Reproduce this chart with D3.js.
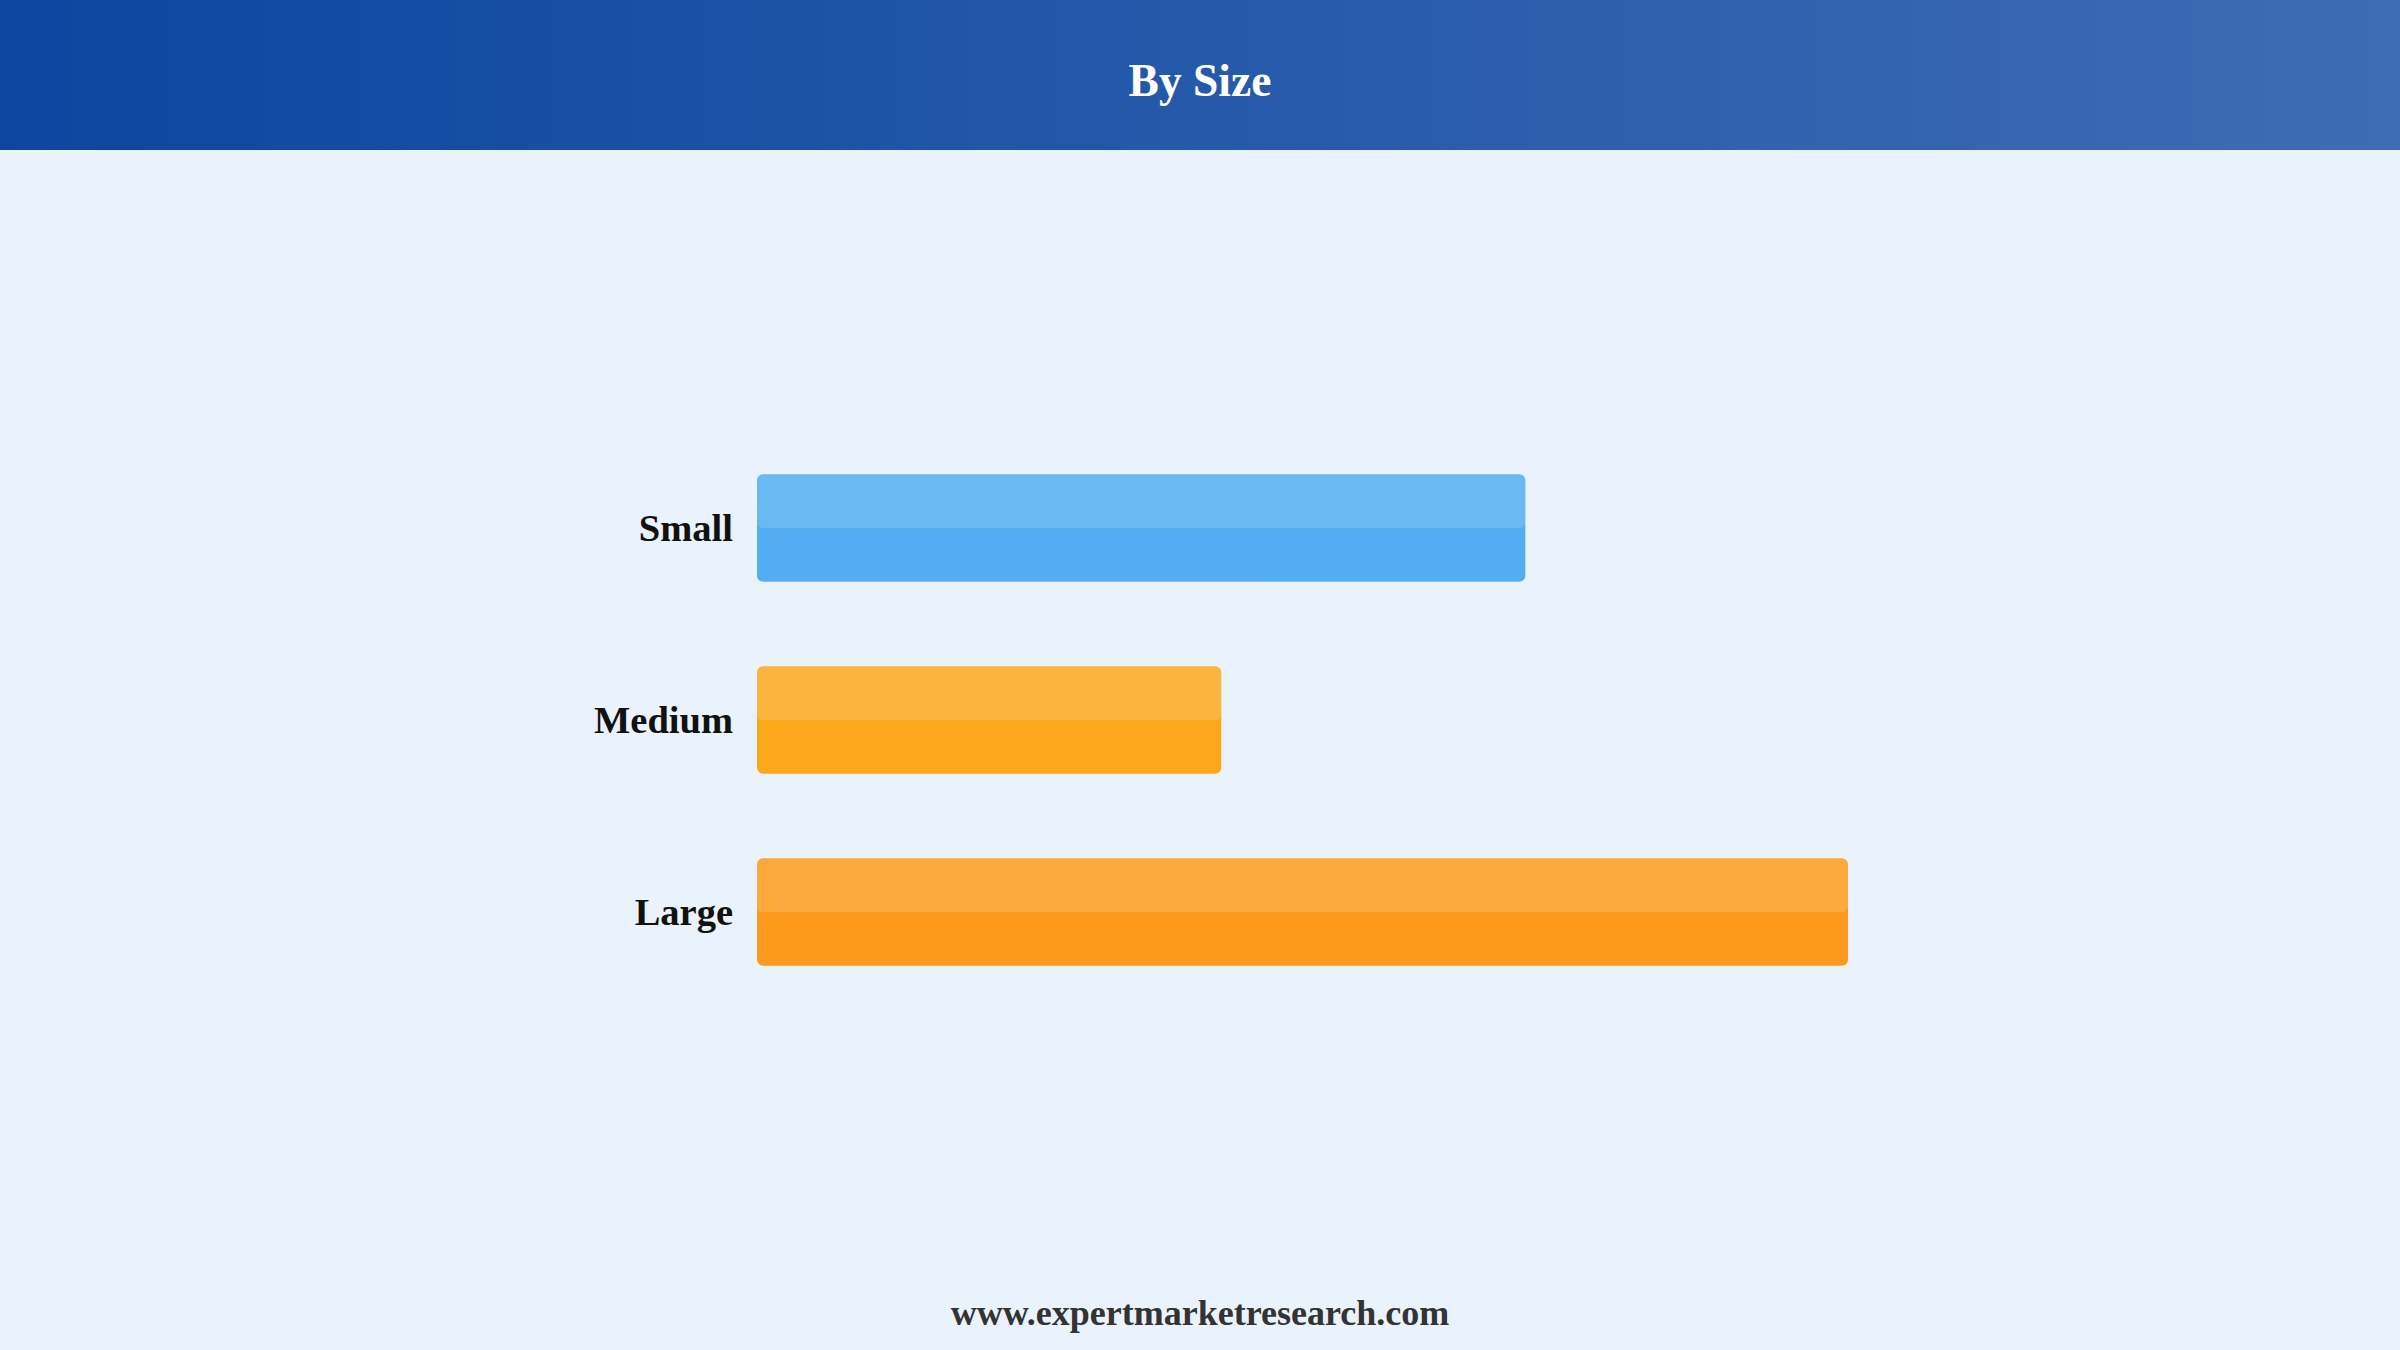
<!DOCTYPE html>
<html>
<head>
<meta charset="utf-8">
<script src="https://cdn.jsdelivr.net/npm/d3@7"></script>
<style>
	html, body { margin: 0; padding: 0; background: #eaf2fb; }
	svg { display: block; }
</style>
</head>
<body>
<div id="chart"></div>
<script>

const title = "By Size";
const source = "www.expertmarketresearch.com";

// share of each size segment
const categories = [ "Small", "Medium", "Large" ];
const values = [ 33.1, 20, 47 ];
const colors = [ "#52adf3", "#fba91a", "#fd9a1d" ];

const width = 2400, height = 1350;
const headerHeight = 150;

let svg = d3.select( "#chart" ).append( "svg" )
	.attr( "width", width )
	.attr( "height", height );

let defs = svg.append( "defs" );
let grad = defs.append( "linearGradient" )
	.attr( "id", "headerGrad" )
	.attr( "x1", "0%" ).attr( "x2", "100%" )
	.attr( "y1", "0%" ).attr( "y2", "0%" );
grad.append( "stop" ).attr( "offset", "0%" ).attr( "stop-color", "#0c46a0" );
grad.append( "stop" ).attr( "offset", "100%" ).attr( "stop-color", "#3e6cb4" );

svg.append( "rect" )
	.attr( "width", width )
	.attr( "height", height )
	.attr( "fill", "#eaf2fb" );

svg.append( "rect" )
	.attr( "width", width )
	.attr( "height", headerHeight )
	.attr( "fill", "url(#headerGrad)" );

svg.append( "text" )
	.attr( "x", width / 2 )
	.attr( "y", 96 )
	.attr( "text-anchor", "middle" )
	.attr( "font-family", "'Liberation Serif', 'Times New Roman', serif" )
	.attr( "font-weight", "bold" )
	.attr( "font-size", 45.5 )
	.attr( "fill", "#ffffff" )
	.text( title );

let x = d3.scaleLinear()
	.domain( [ 0, d3.max( values ) ] )
	.range( [ 757, 1848 ] );

let y = d3.scaleBand()
	.domain( categories )
	.range( [ 432, 1008 ] )
	.paddingInner( 0.44 )
	.paddingOuter( 0.22 );

let g = svg.append( "g" );

let bars = g.selectAll( ".bar" )
	.data( categories )
	.enter().append( "g" )
		.attr( "class", "bar" );

bars.append( "rect" )
	.attr( "x", x( 0 ) )
	.attr( "y", d => y( d ) )
	.attr( "width", ( d, i ) => x( values[ i ] ) - x( 0 ) )
	.attr( "height", y.bandwidth() )
	.attr( "rx", 6 )
	.attr( "fill", ( d, i ) => colors[ i ] );

// lighter top half
bars.append( "rect" )
	.attr( "x", x( 0 ) )
	.attr( "y", d => y( d ) )
	.attr( "width", ( d, i ) => x( values[ i ] ) - x( 0 ) )
	.attr( "height", y.bandwidth() / 2 )
	.attr( "rx", 6 )
	.attr( "fill", "#ffffff" )
	.attr( "fill-opacity", 0.15 );

bars.append( "text" )
	.attr( "x", x( 0 ) - 24 )
	.attr( "y", d => y( d ) + y.bandwidth() / 2 + 13 )
	.attr( "text-anchor", "end" )
	.attr( "font-family", "'Liberation Serif', 'Times New Roman', serif" )
	.attr( "font-weight", "bold" )
	.attr( "font-size", 38.5 )
	.attr( "fill", "#111111" )
	.text( d => d );

svg.append( "text" )
	.attr( "x", width / 2 )
	.attr( "y", 1325 )
	.attr( "text-anchor", "middle" )
	.attr( "font-family", "'Liberation Serif', 'Times New Roman', serif" )
	.attr( "font-weight", "bold" )
	.attr( "font-size", 36 )
	.attr( "fill", "#333333" )
	.text( source );

</script>
</body>
</html>
